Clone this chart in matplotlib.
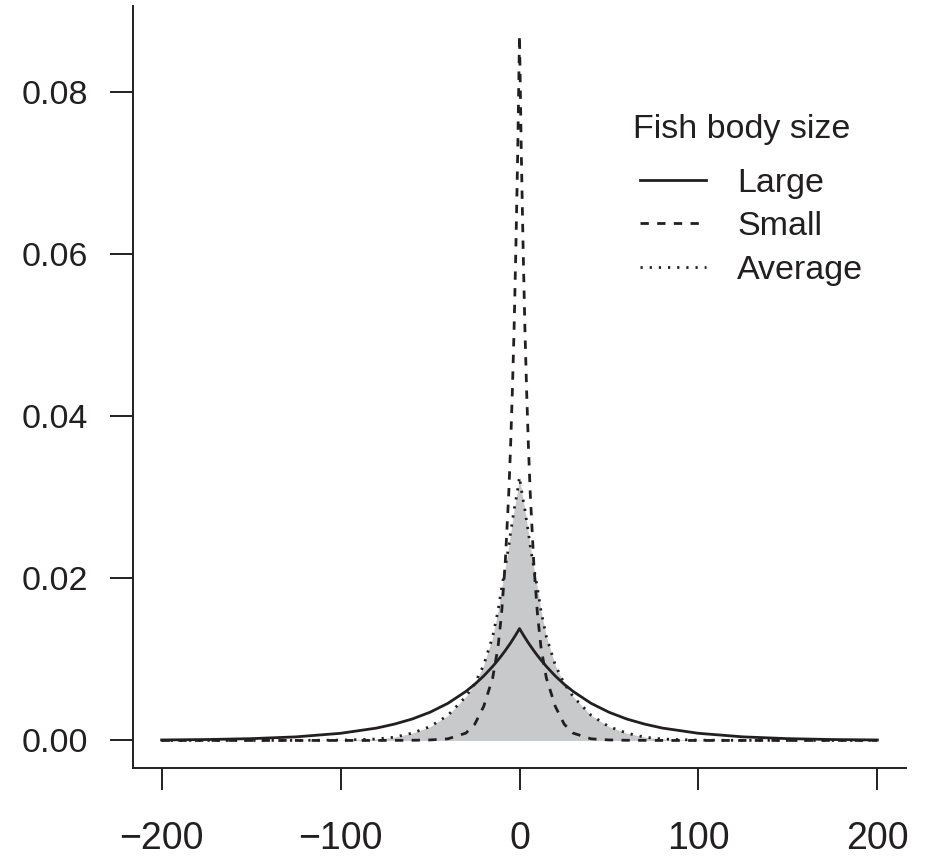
import matplotlib
matplotlib.use('Agg')
import matplotlib.pyplot as plt

# distance values (symmetric about 0)
x_half = [0, 1, 2, 3, 4, 5, 6, 8, 10, 12, 15, 20, 25, 30, 40, 50, 60, 70, 80, 100, 125, 150, 175, 200]

large_half = [0.01380, 0.01343, 0.01306, 0.01271, 0.01236, 0.01202, 0.01170, 0.01107,
              0.01048, 0.00992, 0.00913, 0.00795, 0.00693, 0.00604, 0.00458, 0.00348,
              0.00264, 0.00201, 0.00152, 0.00088, 0.00044, 0.00022, 0.00011, 0.00006]

small_half = [0.08700, 0.07250, 0.06100, 0.05100, 0.04300, 0.03620, 0.03050, 0.02180,
              0.01570, 0.01150, 0.00770, 0.00420, 0.00200, 0.00090, 0.00020, 0.00006,
              0.00002, 0.00001, 0.0, 0.0, 0.0, 0.0, 0.0, 0.0]

average_half = [0.03250, 0.03100, 0.02970, 0.02850, 0.02700, 0.02560, 0.02400, 0.02130,
                0.01880, 0.01600, 0.01280, 0.00930, 0.00700, 0.00540, 0.00310, 0.00170,
                0.00090, 0.00040, 0.00017, 0.00004, 0.00001, 0.0, 0.0, 0.0]

xticks = [-200, -100, 0, 100, 200]
yticks = [0.00, 0.02, 0.04, 0.06, 0.08]
labels = ['Large', 'Small', 'Average']
legend_title = 'Fish body size'


def mirror(h):
    return h[:0:-1] + h


xs = [-v for v in x_half[:0:-1]] + x_half
large = mirror(large_half)
small = mirror(small_half)
average = mirror(average_half)

ink = '#231f20'

plt.rcParams['font.family'] = ['Liberation Sans', 'DejaVu Sans']
plt.rcParams['axes.unicode_minus'] = True

fig = plt.figure(figsize=(9.32, 8.56), dpi=100)
ax = fig.add_axes([133/932, 1-768/856, (906-133)/932, (768-6)/856])

ax.fill_between(xs, 0, average, color='#c8c9cb', lw=0)
ax.plot(xs, large, color=ink, lw=2.0, ls='-', label=labels[0])
ax.plot(xs, small, color=ink, lw=2.0, ls=(0, (3, 3)), label=labels[1])
ax.plot(xs, average, color=ink, lw=2.0, ls=(0, (0.8, 2.5)), label=labels[2])

ax.set_xlim(-216, 216)
ax.set_ylim(-0.0034, 0.0906)

for s in ['top', 'right']:
    ax.spines[s].set_visible(False)
for s in ['left', 'bottom']:
    ax.spines[s].set_linewidth(1.4)
    ax.spines[s].set_color(ink)

ax.set_xticks(xticks)
ax.set_xticklabels(['\u2212200', '\u2212100', '0', '100', '200'], fontsize=27, color=ink)
ax.set_yticks(yticks)
ax.set_yticklabels(['%.2f' % v for v in yticks], fontsize=24.5, color=ink)
ax.tick_params(axis='x', length=16, width=1.4, pad=22.5, color=ink)
ax.tick_params(axis='y', length=16.5, width=1.4, pad=16, color=ink)

# legend title as its own text, entries below it
fig.text(633/932, 1-138/856, legend_title, fontsize=24.5, color=ink, ha='left', va='baseline')
leg = ax.legend(loc='upper left', frameon=False,
                bbox_to_anchor=(640/932, 1-168/856), bbox_transform=fig.transFigure,
                fontsize=24.5, borderpad=0, borderaxespad=0,
                handlelength=1.94, handletextpad=0.91, labelspacing=0.36)
for t in leg.get_texts():
    t.set_color(ink)

fig.savefig('out.png', dpi=100)
